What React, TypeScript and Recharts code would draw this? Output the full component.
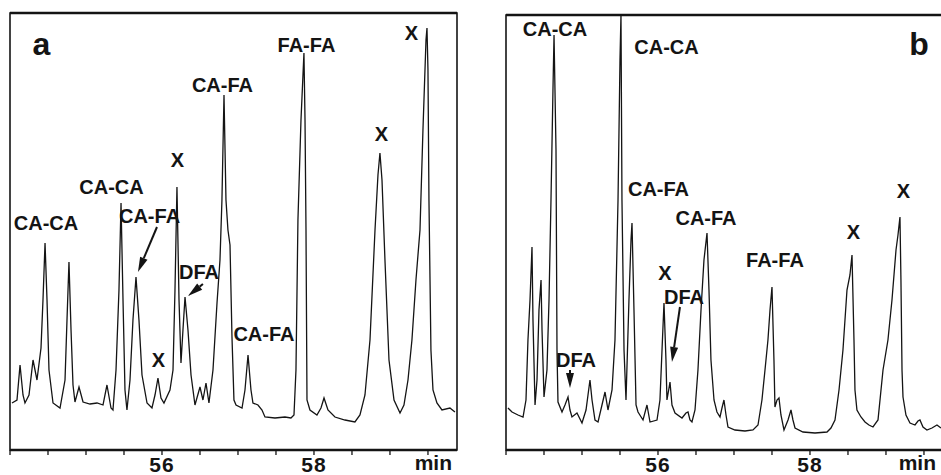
import React from "react";
import {
  LineChart,
  Line,
  XAxis,
  YAxis,
  ReferenceArea,
  ReferenceDot,
  ReferenceLine,
} from "recharts";

// retention time (min) and detector signal
const timesA = [
  54.026, 54.092, 54.132, 54.171, 54.197, 54.25, 54.303, 54.355, 54.408, 54.434,
  54.461, 54.487, 54.513, 54.566, 54.658, 54.724, 54.75, 54.776, 54.803, 54.829,
  54.855, 54.908, 54.961, 55.053, 55.145, 55.224, 55.276, 55.329, 55.355, 55.395,
  55.434, 55.461, 55.487, 55.513, 55.539, 55.579, 55.618, 55.658, 55.697, 55.737,
  55.803, 55.868, 55.908, 55.947, 55.987, 56.026, 56.105, 56.145, 56.171, 56.197,
  56.224, 56.25, 56.276, 56.303, 56.342, 56.382, 56.434, 56.5, 56.539, 56.579,
  56.618, 56.671, 56.724, 56.763, 56.789, 56.816, 56.842, 56.868, 56.895, 56.921,
  56.947, 56.974, 57.053, 57.092, 57.132, 57.171, 57.197, 57.263, 57.316, 57.355,
  57.487, 57.618, 57.697, 57.737, 57.763, 57.789, 57.829, 57.868, 57.882, 57.895,
  57.908, 57.947, 58.039, 58.092, 58.132, 58.184, 58.276, 58.408, 58.539, 58.605,
  58.671, 58.737, 58.803, 58.842, 58.868, 58.895, 58.934, 58.987, 59.053, 59.132,
  59.184, 59.237, 59.289, 59.342, 59.395, 59.434, 59.474, 59.487, 59.5, 59.513,
  59.539, 59.566, 59.618, 59.684, 59.789, 59.855,
];
const signalA = [
  47, 50, 85, 55, 47, 55, 90, 70, 102, 150,
  207, 150, 80, 47, 42, 70, 130, 188, 120, 65,
  48, 63, 48, 46, 47, 45, 65, 42, 40, 80,
  160, 247, 150, 60, 40, 70, 130, 173, 130, 75,
  47, 42, 55, 72, 52, 47, 60, 80, 160, 263,
  150, 87, 120, 153, 120, 75, 45, 63, 50, 67,
  47, 80, 147, 190, 250, 355, 250, 220, 205, 113,
  50, 45, 42, 60, 95, 60, 47, 45, 40, 33,
  32, 33, 32, 35, 80, 230, 330, 397, 330, 220,
  50, 40, 35, 42, 52, 40, 33, 30, 28, 35,
  55, 110, 220, 275, 297, 270, 190, 90, 50, 37,
  45, 70, 110, 170, 220, 320, 410, 422, 380, 250,
  100, 60, 47, 40, 42, 38,
];

const timesB = [
  54.026, 54.079, 54.158, 54.224, 54.263, 54.289, 54.316, 54.342, 54.355, 54.382,
  54.408, 54.434, 54.461, 54.474, 54.5, 54.539, 54.566, 54.592, 54.618, 54.632,
  54.658, 54.671, 54.684, 54.737, 54.776, 54.816, 54.842, 54.868, 54.934, 55.0,
  55.053, 55.079, 55.105, 55.132, 55.171, 55.211, 55.263, 55.303, 55.342, 55.395,
  55.434, 55.474, 55.5, 55.513, 55.526, 55.553, 55.579, 55.618, 55.645, 55.658,
  55.684, 55.711, 55.737, 55.803, 55.855, 55.895, 55.987, 56.026, 56.053, 56.079,
  56.105, 56.118, 56.145, 56.158, 56.184, 56.224, 56.316, 56.368, 56.395, 56.421,
  56.447, 56.487, 56.526, 56.566, 56.605, 56.645, 56.671, 56.697, 56.737, 56.776,
  56.816, 56.842, 56.868, 56.895, 56.921, 57.013, 57.145, 57.25, 57.316, 57.368,
  57.408, 57.447, 57.474, 57.5, 57.526, 57.539, 57.566, 57.592, 57.618, 57.658,
  57.711, 57.75, 57.776, 57.803, 57.908, 58.066, 58.224, 58.276, 58.329, 58.382,
  58.434, 58.487, 58.526, 58.553, 58.579, 58.592, 58.618, 58.671, 58.724, 58.776,
  58.829, 58.895, 58.961, 59.026, 59.079, 59.132, 59.158, 59.184, 59.197, 59.211,
  59.224, 59.263, 59.316, 59.382, 59.421, 59.447, 59.487, 59.539, 59.605, 59.671,
  59.724,
];
const signalB = [
  42, 38, 35, 33, 50, 110, 150, 203, 130, 45,
  70, 140, 170, 120, 53, 80, 150, 250, 360, 415,
  300, 100, 48, 38, 45, 53, 40, 33, 37, 27,
  40, 55, 70, 50, 30, 28, 45, 58, 40, 60,
  110, 250, 390, 435, 250, 100, 50, 150, 210, 227,
  140, 45, 38, 30, 45, 28, 30, 50, 100, 147,
  90, 50, 62, 68, 45, 37, 32, 37, 38, 30,
  28, 40, 80, 140, 190, 217, 160, 90, 50, 38,
  33, 42, 50, 35, 23, 20, 19, 20, 25, 50,
  80, 110, 140, 163, 90, 43, 50, 52, 35, 20,
  30, 40, 30, 22, 18, 17, 18, 22, 30, 60,
  100, 160, 175, 195, 110, 60, 40, 33, 28, 25,
  23, 30, 80, 110, 150, 200, 215, 233, 170, 80,
  53, 35, 27, 25, 29, 30, 23, 20, 22, 25,
  22,
];

const tickMinutes = [54, 54.5, 55, 55.5, 56, 56.5, 57, 57.5, 58, 58.5, 59, 59.5];
const labelledTicks = [56, 58];

const peakLabelsA = [
  { text: "CA-CA", t: 54.474, v: 227 },
  { text: "CA-CA", t: 55.336, v: 263 },
  { text: "CA-FA", t: 55.836, v: 234 },
  { text: "X", t: 56.204, v: 290 },
  { text: "X", t: 55.954, v: 90 },
  { text: "DFA", t: 56.487, v: 178 },
  { text: "CA-FA", t: 56.796, v: 365 },
  { text: "FA-FA", t: 57.901, v: 405 },
  { text: "X", t: 58.888, v: 316 },
  { text: "X", t: 59.283, v: 417 },
  { text: "CA-FA", t: 57.342, v: 116 },
];
const arrowsA = [
  { t1: 55.934, v1: 223, t2: 55.684, v2: 178 },
  { t1: 56.539, v1: 166, t2: 56.342, v2: 154 },
];

const peakLabelsB = [
  { text: "CA-CA", t: 54.645, v: 421 },
  { text: "CA-CA", t: 56.112, v: 403 },
  { text: "CA-FA", t: 56.007, v: 261 },
  { text: "CA-FA", t: 56.632, v: 232 },
  { text: "X", t: 56.092, v: 177 },
  { text: "DFA", t: 56.342, v: 153 },
  { text: "DFA", t: 54.921, v: 90 },
  { text: "FA-FA", t: 57.539, v: 190 },
  { text: "X", t: 58.572, v: 218 },
  { text: "X", t: 59.23, v: 259 },
];
const arrowsB = [
  { t1: 56.289, v1: 143, t2: 56.184, v2: 88 },
  { t1: 54.842, v1: 80, t2: 54.842, v2: 62 },
];

const T_MIN = 54;
const T_MAX = 59.882;
const INK = "#141414";
const FONT = "'Liberation Sans', Arial, Helvetica, sans-serif";

const textShape = (text: string, size: number) => (p: any) => (
  <text
    x={p.cx}
    y={p.cy}
    textAnchor="middle"
    dominantBaseline="central"
    fontFamily={FONT}
    fontWeight={700}
    fontSize={size}
    fill={INK}
  >
    {text}
  </text>
);

const arrowShape = (p: any) => {
  const { x1, y1, x2, y2 } = p;
  const ang = Math.atan2(y2 - y1, x2 - x1);
  const len = Math.hypot(x2 - x1, y2 - y1);
  const head = 15;
  const half = 4;
  const bx = x2 - head * Math.cos(ang);
  const by = y2 - head * Math.sin(ang);
  const nx = -Math.sin(ang) * half;
  const ny = Math.cos(ang) * half;
  return (
    <g>
      {len > head ? (
        <line x1={x1} y1={y1} x2={bx} y2={by} stroke={INK} strokeWidth={2} />
      ) : null}
      <polygon
        points={`${x2},${y2} ${bx + nx},${by + ny} ${bx - nx},${by - ny}`}
        fill={INK}
      />
    </g>
  );
};

interface Label {
  text: string;
  t: number;
  v: number;
}
interface Arrow {
  t1: number;
  v1: number;
  t2: number;
  v2: number;
}

function Chromatogram({
  times,
  signal,
  top,
  tag,
  tagAt,
  labels,
  arrows,
  unitShift = 0,
}: {
  times: number[];
  signal: number[];
  top: number;
  tag: string;
  tagAt: { t: number; v: number };
  labels: Label[];
  arrows: Arrow[];
  unitShift?: number;
}) {
  const height = 475;
  const axisH = 25;
  const yMax = height - axisH - top;
  const data = times.map((t, i) => ({ t, v: signal[i] }));

  return (
    <LineChart
      width={470}
      height={height}
      data={data}
      margin={{ top, right: 13, bottom: 0, left: 10 }}
    >
      <XAxis
        dataKey="t"
        type="number"
        domain={[T_MIN, T_MAX]}
        allowDataOverflow
        ticks={tickMinutes}
        interval={0}
        tickFormatter={(m: number) => (labelledTicks.includes(m) ? String(m) : "")}
        height={axisH}
        tickSize={5}
        tickMargin={2}
        axisLine={{ stroke: INK, strokeWidth: 2.4 }}
        tickLine={{ stroke: INK, strokeWidth: 1.3 }}
        tick={{ fill: INK, fontSize: 21, fontWeight: 700, fontFamily: FONT, letterSpacing: 1 }}
        label={{
          value: "min",
          position: "insideBottomRight",
          offset: 5,
          dx: unitShift,
          fill: INK,
          fontSize: 21,
          fontWeight: 700,
          fontFamily: FONT,
        }}
      />
      <YAxis type="number" domain={[0, yMax]} allowDataOverflow hide />
      <ReferenceArea
        x1={T_MIN}
        x2={T_MAX}
        y1={0}
        y2={yMax}
        fill="none"
        fillOpacity={0}
        stroke={INK}
        strokeWidth={1.6}
        strokeOpacity={1}
      />
      <ReferenceLine y={yMax} stroke={INK} strokeWidth={2.4} />
      <Line
        dataKey="v"
        type="linear"
        stroke={INK}
        strokeWidth={1.3}
        dot={false}
        activeDot={false}
        isAnimationActive={false}
      />
      <ReferenceDot x={tagAt.t} y={tagAt.v} r={0} shape={textShape(tag, 32)} />
      {labels.map((l, i) => (
        <ReferenceDot key={`l${i}`} x={l.t} y={l.v} r={0} shape={textShape(l.text, 20)} />
      ))}
      {arrows.map((a, i) => (
        <ReferenceLine
          key={`a${i}`}
          segment={[
            { x: a.t1, y: a.v1 },
            { x: a.t2, y: a.v2 },
          ]}
          shape={arrowShape}
        />
      ))}
    </LineChart>
  );
}

export default function App() {
  return (
    <div
      style={{
        position: "absolute",
        left: 0,
        top: 0,
        width: 941,
        height: 475,
        overflow: "hidden",
        background: "#fff",
      }}
    >
      <div style={{ position: "absolute", left: 0, top: 0 }}>
        <Chromatogram
          times={timesA}
          signal={signalA}
          top={13}
          tag="a"
          tagAt={{ t: 54.414, v: 406 }}
          labels={peakLabelsA}
          arrows={arrowsA}
        />
      </div>
      <div style={{ position: "absolute", left: 496, top: 0 }}>
        <Chromatogram
          times={timesB}
          signal={signalB}
          top={15}
          tag="b"
          tagAt={{ t: 59.434, v: 406 }}
          labels={peakLabelsB}
          arrows={arrowsB}
          unitShift={-12}
        />
      </div>
    </div>
  );
}
